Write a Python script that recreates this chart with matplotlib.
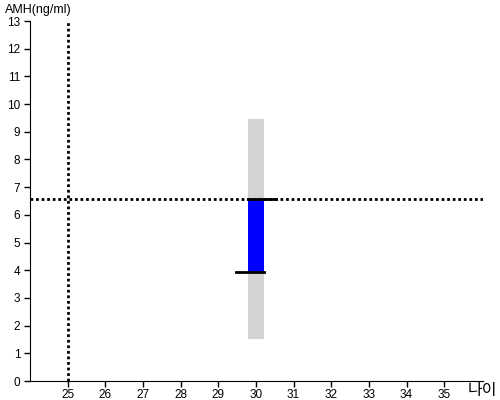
import matplotlib.pyplot as plt

plt.rcParams['font.family'] = ['Liberation Sans', 'Noto Sans CJK KR', 'DejaVu Sans']

age = 30
range_low, range_high = 1.5, 9.45
amh_low, amh_high = 3.95, 6.57
ref_age = 25
ref_amh = 6.57
x_ticks = list(range(25, 36))
y_ticks = list(range(0, 14))

fig = plt.figure(figsize=(5, 4), dpi=100)
ax = fig.add_axes([0.06, 0.0475, 0.906, 0.9])

w = 0.42
ax.bar(age, range_high - range_low, bottom=range_low, width=w, color='#d3d3d3', zorder=1)
ax.bar(age, amh_high - amh_low, bottom=amh_low, width=w, color='#0000ff', zorder=2)
ax.plot([age - w / 2, age + w / 2 + 0.32], [amh_high, amh_high], color='black', lw=2, zorder=3)
ax.plot([age - w / 2 - 0.32, age + w / 2], [amh_low, amh_low], color='black', lw=2, zorder=3)

ax.axhline(ref_amh, color='black', lw=2, linestyle=(0, (1, 1)), zorder=4)
ax.axvline(ref_age, color='black', lw=2, linestyle=(0, (1, 1)), zorder=4)

ax.set_xlim(24, 36.03)
ax.set_ylim(0, 13)
ax.set_xticks(x_ticks)
ax.set_yticks(y_ticks)
ax.tick_params(labelsize=8.5, length=4, width=1, direction='out', pad=3)
ax.tick_params(axis='x', pad=1.5)
for s in ['top', 'right']:
    ax.spines[s].set_visible(False)

fig.text(0.01, 0.975, 'AMH(ng/ml)', fontsize=9, ha='left', va='center')
fig.text(0.995, 0.024, '나이', fontsize=11.5, ha='right', va='center')

fig.savefig('out.png', dpi=100)
